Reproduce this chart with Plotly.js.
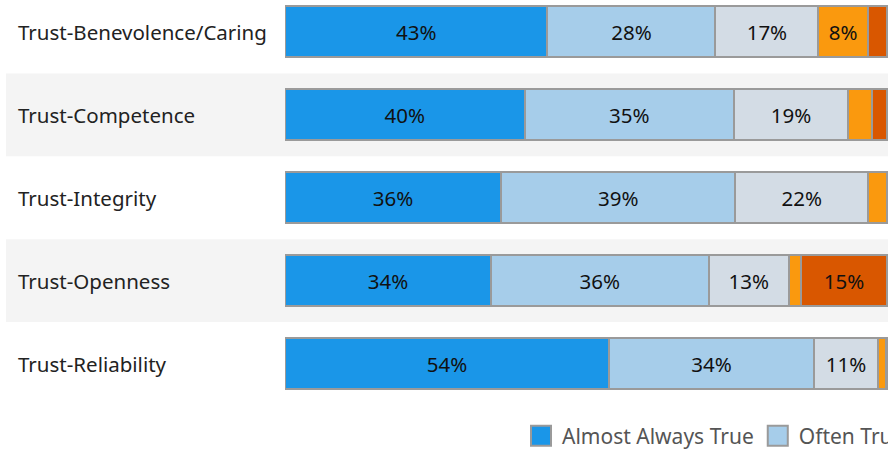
<!DOCTYPE html>
<html>
<head>
<meta charset="utf-8">
<script src="https://cdn.plot.ly/plotly-3.0.1.min.js"></script>
<style>
html, body { margin:0; padding:0; overflow:hidden; background:#fff; }
#chart { width:1800px; height:450px; }
.legend .legendpoints path { transform: translate(19px, 0px) scale(1.67); stroke-width: 1.2px !important; }
</style>
</head>
<body>
<div id="chart"></div>
<script>
// ---- data ----
var categories = ['Trust-Benevolence/Caring', 'Trust-Competence', 'Trust-Integrity', 'Trust-Openness', 'Trust-Reliability'];
var seriesNames = ['Almost Always True', 'Often True', 'Sometimes True', 'Rarely True', 'Almost Never True'];
var almostAlways = [43.6, 39.8, 35.9, 34.2, 53.8];
var often        = [27.9, 34.8, 38.9, 36.2, 34.1];
var sometimes    = [17.1, 18.9, 22.1, 13.3, 10.6];
var rarely       = [8.2, 4.0, 3.1, 2.0, 1.3];
var almostNever  = [3.2, 2.5, 0.0, 14.3, 0.2];
var labelsAlmostAlways = ['43%', '40%', '36%', '34%', '54%'];
var labelsOften        = ['28%', '35%', '39%', '36%', '34%'];
var labelsSometimes    = ['17%', '19%', '22%', '13%', '11%'];
var labelsRarely       = ['8%', '', '', '', ''];
var labelsAlmostNever  = ['', '', '', '15%', ''];

// ---- styling ----
var colors = ['#1a96e8', '#a6cdea', '#d3dce5', '#fa990e', '#d95700'];
var FONT = 'Noto Sans, sans-serif';
var W = 1800, H = 450;
var plotLeft = 285, fullBarRight = 887, plotRight = 1700;
var pxPerUnit = (fullBarRight - plotLeft) / 100;
var plotW = plotRight - plotLeft;
var rowH = 83, firstRowCenter = 32;
var plotBottom = firstRowCenter + 4.5 * rowH;

var seriesValues = [almostAlways, often, sometimes, rarely, almostNever];
var seriesLabels = [labelsAlmostAlways, labelsOften, labelsSometimes, labelsRarely, labelsAlmostNever];

var traces = seriesValues.map(function (vals, k) {
  return {
    type: 'bar',
    orientation: 'h',
    name: seriesNames[k],
    y: categories,
    x: vals,
    text: seriesLabels[k],
    textposition: 'inside',
    insidetextanchor: 'middle',
    textangle: 0,
    texttemplate: '%{text}',
    insidetextfont: { family: FONT, size: 20.5, color: '#111' },
    marker: { color: colors[k], line: { color: '#9a9a9a', width: 2 } },
    hoverinfo: 'skip'
  };
});

var shapes = [];
categories.forEach(function (c, i) {
  if (i % 2 === 1) {
    shapes.push({
      type: 'rect', layer: 'below',
      xref: 'paper', yref: 'y',
      x0: (6 - plotLeft) / plotW, x1: 1,
      y0: i - 0.5, y1: i + 0.5,
      fillcolor: '#f4f4f4', line: { width: 0 }
    });
  }
});

var annotations = categories.map(function (c) {
  return {
    xref: 'paper', yref: 'y',
    x: (15.5 - plotLeft) / plotW, y: c,
    xanchor: 'left', yanchor: 'middle',
    text: c, showarrow: false,
    font: { family: FONT, size: 20.5, color: '#222' }
  };
});

var layout = {
  width: W, height: H,
  margin: { l: plotLeft, r: W - plotRight, t: 0, b: H - plotBottom, pad: 0 },
  barmode: 'stack',
  bargap: 0.385,
  paper_bgcolor: '#fff',
  plot_bgcolor: 'rgba(0,0,0,0)',
  showlegend: true,
  legend: {
    orientation: 'h',
    xref: 'container', yref: 'container',
    x: 522 / W, xanchor: 'left',
    y: (H - 436) / H, yanchor: 'middle',
    font: { family: FONT, size: 21, color: '#555' },
    traceorder: 'normal',
    bgcolor: 'rgba(0,0,0,0)'
  },
  xaxis: {
    range: [0, plotW / pxPerUnit], showgrid: false, zeroline: false,
    showticklabels: false, showline: false, ticks: '', fixedrange: true
  },
  yaxis: {
    type: 'category',
    range: [4.5, -firstRowCenter / rowH],
    autorange: false,
    showgrid: false, zeroline: false, showticklabels: false,
    showline: false, ticks: '', fixedrange: true
  },
  shapes: shapes,
  annotations: annotations,
  hovermode: false
};

Plotly.newPlot('chart', traces, layout, { displayModeBar: false, staticPlot: true });
</script>
</body>
</html>
